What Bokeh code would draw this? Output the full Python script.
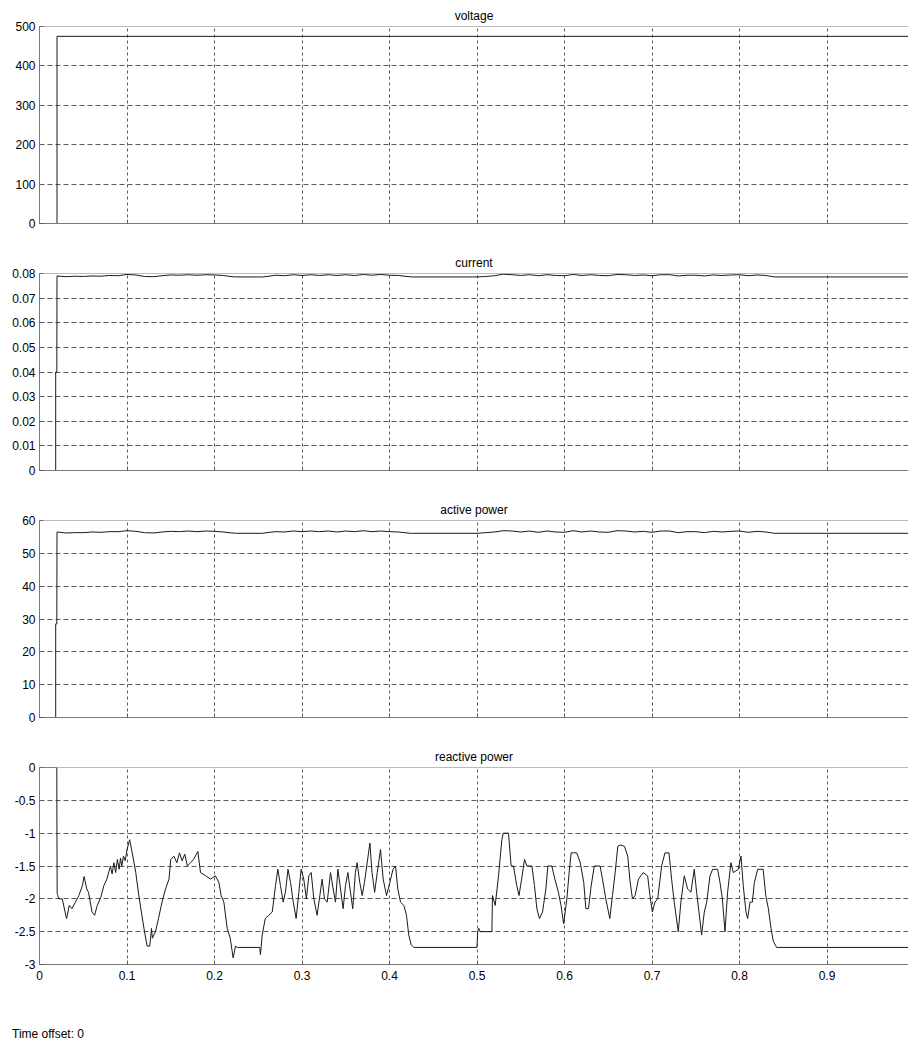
from bokeh.plotting import figure
from bokeh.models import FixedTicker, CustomJSTickFormatter, Range1d, Span, Div
from bokeh.layouts import column
from bokeh.embed import file_html
from bokeh.resources import INLINE

FONT = "Liberation Sans"

# ---------------- data ----------------
x_ticks = [0.0, 0.1, 0.2, 0.3, 0.4, 0.5, 0.6, 0.7, 0.8, 0.9]

voltage_t = [0.0, 0.02, 0.02, 1.0]
voltage_v = [0.0, 0.0, 475.0, 475.0]
voltage_ticks = [0, 100, 200, 300, 400, 500]

start_t = [0.0, 0.0185, 0.0185, 0.0198]
current_start = [0.0, 0.0, 0.040, 0.040]
active_start = [0.0, 0.0, 28.5, 28.5]

ripple_t = [0.02, 0.03, 0.04, 0.05, 0.06, 0.07, 0.08, 0.09, 0.10, 0.11, 0.12, 0.13,
            0.14, 0.15, 0.16, 0.17, 0.18, 0.19, 0.20, 0.21, 0.22, 0.225,
            0.255, 0.26, 0.27, 0.28, 0.29, 0.30, 0.31, 0.32, 0.33, 0.34, 0.35, 0.36,
            0.37, 0.38, 0.39, 0.40, 0.41, 0.42, 0.425,
            0.50, 0.51, 0.52, 0.53, 0.54, 0.55, 0.56, 0.57, 0.58, 0.59, 0.60, 0.61,
            0.62, 0.63, 0.64, 0.65, 0.66, 0.67, 0.68, 0.69, 0.70, 0.71, 0.72, 0.73,
            0.74, 0.75, 0.76, 0.77, 0.78, 0.79, 0.80, 0.81, 0.82, 0.83, 0.84, 1.0]

current_v = [0.0790, 0.0787, 0.0789, 0.0788, 0.0790, 0.0789, 0.0792, 0.0791, 0.0796, 0.0794,
             0.0788, 0.0787, 0.0791, 0.0794, 0.0793, 0.0795, 0.0793, 0.0795, 0.0794, 0.0792,
             0.0787, 0.0786,
             0.0786, 0.0788, 0.0793, 0.0791, 0.0795, 0.0792, 0.0795, 0.0792, 0.0795, 0.0792,
             0.0795, 0.0792, 0.0796, 0.0793, 0.0796, 0.0793, 0.0792, 0.0788, 0.0786,
             0.0786, 0.0788, 0.0791, 0.0797, 0.0795, 0.0792, 0.0795, 0.0791, 0.0795, 0.0792,
             0.0791, 0.0796, 0.0792, 0.0795, 0.0792, 0.0791, 0.0796, 0.0795, 0.0792, 0.0794,
             0.0791, 0.0795, 0.0795, 0.0790, 0.0793, 0.0793, 0.0790, 0.0794, 0.0792, 0.0794,
             0.0795, 0.0791, 0.0794, 0.0792, 0.0786, 0.0786]
current_ticks = [0.0, 0.01, 0.02, 0.03, 0.04, 0.05, 0.06, 0.07, 0.08]

active_v = [56.5, 56.2, 56.3, 56.3, 56.5, 56.4, 56.6, 56.6, 56.9, 56.7,
            56.3, 56.2, 56.5, 56.7, 56.6, 56.8, 56.6, 56.8, 56.7, 56.5,
            56.2, 56.1,
            56.1, 56.3, 56.6, 56.5, 56.8, 56.6, 56.8, 56.6, 56.8, 56.5,
            56.8, 56.6, 56.9, 56.6, 56.8, 56.6, 56.5, 56.2, 56.1,
            56.1, 56.3, 56.5, 56.9, 56.8, 56.5, 56.8, 56.4, 56.8, 56.5,
            56.4, 56.9, 56.5, 56.8, 56.5, 56.4, 56.9, 56.8, 56.5, 56.7,
            56.4, 56.8, 56.8, 56.3, 56.6, 56.6, 56.3, 56.7, 56.5, 56.7,
            56.8, 56.4, 56.7, 56.5, 56.1, 56.1]
active_ticks = [0, 10, 20, 30, 40, 50, 60]

reactive_t = [0.0, 0.0198, 0.0199, 0.0202, 0.021, 0.022, 0.026, 0.030, 0.031, 0.034,
              0.037, 0.041, 0.045, 0.049, 0.051, 0.054, 0.056, 0.060, 0.063, 0.066,
              0.070, 0.0735, 0.077, 0.081, 0.083, 0.085, 0.087, 0.089, 0.091, 0.0926, 0.094, 0.096, 0.098, 0.100, 0.103,
              0.106, 0.110, 0.1135, 0.117, 0.120, 0.123, 0.126, 0.128, 0.129, 0.1326,
              0.136, 0.140, 0.144, 0.148, 0.150, 0.1535, 0.157, 0.160, 0.163, 0.166, 0.169, 0.1726,
              0.176, 0.181, 0.184, 0.190, 0.1954, 0.201, 0.205, 0.2076, 0.2107, 0.2145,
              0.218, 0.2213, 0.224, 0.226, 0.2518, 0.2525, 0.2545, 0.258, 0.262, 0.266,
              0.2697, 0.2724, 0.2754, 0.2785, 0.281, 0.284, 0.2869, 0.290, 0.2933, 0.2964,
              0.299, 0.302, 0.305, 0.3078, 0.3105, 0.3135, 0.3173, 0.3204, 0.323, 0.3257,
              0.3288, 0.3326, 0.3356, 0.3383, 0.341, 0.344, 0.347, 0.3497, 0.3524, 0.3554,
              0.358, 0.361, 0.363, 0.366, 0.3688, 0.3714, 0.3745, 0.3776, 0.380, 0.383,
              0.386, 0.3897, 0.3928, 0.3966, 0.4004, 0.404, 0.4069, 0.4095, 0.4126, 0.4164,
              0.4194, 0.422, 0.4248, 0.4278, 0.500, 0.5008, 0.502, 0.5037, 0.517, 0.5177,
              0.5208, 0.5246, 0.5284, 0.530, 0.536, 0.539, 0.5417, 0.5455, 0.548, 0.551,
              0.5543, 0.557, 0.5627, 0.5657, 0.5684, 0.5714, 0.5749, 0.5787, 0.581, 0.5855,
              0.589, 0.593, 0.596, 0.599, 0.6027, 0.6053, 0.6076, 0.614, 0.618, 0.622,
              0.6244, 0.6274, 0.6305, 0.634, 0.6407, 0.6434, 0.6472, 0.6518, 0.6548, 0.6579,
              0.6609, 0.6636, 0.6685, 0.6723, 0.675, 0.6777, 0.6807, 0.6845, 0.690, 0.695,
              0.6977, 0.7004, 0.7034, 0.7065, 0.711, 0.7148, 0.7194, 0.7224, 0.7254, 0.730,
              0.733, 0.7369, 0.7407, 0.7445, 0.7483, 0.751, 0.7537, 0.7567, 0.7598, 0.7625,
              0.7663, 0.7693, 0.775, 0.7777, 0.7804, 0.7834, 0.7864, 0.7902, 0.7929, 0.7986,
              0.8017, 0.8043, 0.8074, 0.8093, 0.812, 0.8147, 0.817, 0.8208, 0.827, 0.830,
              0.833, 0.836, 0.8387, 0.8425, 1.0]
reactive_v = [0.0, 0.0, -0.87, -1.92, -1.95, -2.0, -2.0, -2.25, -2.3, -2.1,
              -2.15, -2.05, -1.95, -1.8, -1.66, -1.85, -1.9, -2.2, -2.25, -2.1,
              -1.98, -1.8, -1.7, -1.5, -1.62, -1.45, -1.6, -1.4, -1.55, -1.38, -1.5, -1.35, -1.42, -1.25, -1.1,
              -1.3, -1.6, -1.95, -2.25, -2.5, -2.72, -2.72, -2.45, -2.6, -2.5,
              -2.3, -2.05, -1.85, -1.7, -1.4, -1.35, -1.45, -1.3, -1.42, -1.32, -1.5, -1.45,
              -1.4, -1.28, -1.6, -1.65, -1.7, -1.65, -1.75, -1.95, -2.05, -2.45,
              -2.6, -2.9, -2.72, -2.74, -2.74, -2.85, -2.55, -2.3, -2.25, -2.2,
              -1.8, -1.55, -1.8, -2.05, -1.9, -1.55, -1.75, -2.05, -2.3, -1.9,
              -1.55, -1.7, -2.0, -1.65, -1.6, -2.0, -2.25, -1.95, -1.7, -2.0,
              -2.05, -1.6, -1.85, -2.05, -1.55, -1.85, -2.15, -1.8, -1.6, -1.9,
              -2.15, -1.6, -1.45, -1.75, -1.95, -1.75, -1.45, -1.15, -1.6, -1.9,
              -1.6, -1.25, -1.7, -1.95, -1.75, -1.55, -1.5, -1.85, -2.05, -2.1,
              -2.25, -2.55, -2.7, -2.74, -2.74, -2.5, -2.45, -2.5, -2.5, -1.95,
              -2.1, -1.65, -1.1, -1.0, -1.0, -1.5, -1.5, -1.8, -1.95, -1.7,
              -1.4, -1.5, -1.5, -1.8, -2.15, -2.3, -2.2, -1.85, -1.5, -1.5,
              -1.7, -1.9, -2.1, -2.38, -2.0, -1.6, -1.3, -1.3, -1.45, -1.75,
              -2.15, -2.15, -1.8, -1.5, -1.5, -1.7, -2.0, -2.3, -1.95, -1.6,
              -1.2, -1.18, -1.2, -1.35, -1.75, -2.0, -1.95, -1.7, -1.6, -1.65,
              -1.95, -2.2, -2.05, -2.0, -1.5, -1.3, -1.3, -1.7, -2.05, -2.5,
              -2.05, -1.65, -1.85, -1.9, -1.55, -1.9, -2.2, -2.55, -2.2, -2.05,
              -1.65, -1.55, -1.55, -1.75, -2.0, -2.5, -1.9, -1.45, -1.6, -1.55,
              -1.35, -1.8, -2.2, -2.3, -2.05, -2.05, -1.75, -1.55, -1.55, -1.95,
              -2.15, -2.45, -2.65, -2.74, -2.74]
reactive_ticks = [-3.0, -2.5, -2.0, -1.5, -1.0, -0.5, 0.0]

footer_text = "Time offset: 0"

assert len(ripple_t) == len(current_v) == len(active_v), (len(ripple_t), len(current_v), len(active_v))
assert len(reactive_t) == len(reactive_v), (len(reactive_t), len(reactive_v))

# ---------------- layout ----------------
FRAME_W = 869
FRAME_H = 197
X_END = FRAME_W / 875.0

LINE_COLOR = "#1a1a1a"
GRID_COLOR = "#5a5a5a"
FRAME_COLOR = "#7a7a7a"
FONT_SIZE = "12px"

fmt_code = "return tick.toString();"


def make_panel(title, y_lo, y_hi, y_ticks, bottom_border, show_x_labels):
    p = figure(frame_width=FRAME_W, frame_height=FRAME_H,
               min_border_left=39, min_border_right=0, min_border_top=26,
               min_border_bottom=bottom_border,
               x_range=Range1d(0, X_END), y_range=Range1d(y_lo, y_hi),
               output_backend="svg", toolbar_location=None, title=title,
               background_fill_color="white", border_fill_color="white")
    p.title.align = "center"
    p.title.text_font = FONT
    p.title.text_font_size = FONT_SIZE
    p.title.text_font_style = "normal"
    p.title.text_color = "black"
    p.title.standoff = 8
    p.outline_line_color = None

    p.xaxis.ticker = FixedTicker(ticks=x_ticks)
    p.yaxis.ticker = FixedTicker(ticks=y_ticks)
    p.yaxis.formatter = CustomJSTickFormatter(code=fmt_code)
    if show_x_labels:
        p.xaxis.formatter = CustomJSTickFormatter(code=fmt_code)
    else:
        p.xaxis.formatter = CustomJSTickFormatter(code="return '';")
    for ax in (p.xaxis[0], p.yaxis[0]):
        ax.axis_line_color = FRAME_COLOR
        ax.axis_line_width = 1
        ax.major_tick_in = 4
        ax.major_tick_out = 0
        ax.major_tick_line_color = GRID_COLOR
        ax.minor_tick_line_color = None
        ax.major_label_standoff = 4
        ax.major_label_text_font = FONT
        ax.major_label_text_font_size = FONT_SIZE
        ax.major_label_text_color = "black"
    p.xaxis.major_label_standoff = 6

    p.xgrid.grid_line_color = GRID_COLOR
    p.xgrid.grid_line_dash = "3 3"
    p.xgrid.grid_line_width = 1
    p.ygrid.grid_line_color = GRID_COLOR
    p.ygrid.grid_line_dash = "5 3"
    p.ygrid.grid_line_width = 1
    # top border of the scope frame
    p.add_layout(Span(location=y_hi, dimension="width", line_color=FRAME_COLOR, line_width=1))
    return p


p1 = make_panel("voltage", 0, 500, voltage_ticks, 24, False)
p1.line(voltage_t, voltage_v, line_color=LINE_COLOR, line_width=1)

p2 = make_panel("current", 0, 0.08, current_ticks, 24, False)
p2.line(start_t + ripple_t, current_start + current_v, line_color=LINE_COLOR, line_width=1)

p3 = make_panel("active power", 0, 60, active_ticks, 24, False)
p3.line(start_t + ripple_t, active_start + active_v, line_color=LINE_COLOR, line_width=1)

p4 = make_panel("reactive power", -3, 0, reactive_ticks, 64, True)
p4.line(reactive_t, reactive_v, line_color=LINE_COLOR, line_width=1)

footer = Div(text=footer_text, width=300, height=13, margin=(0, 0, 0, 12),
             styles={"font-family": FONT, "font-size": FONT_SIZE, "line-height": "13px",
                     "color": "black"})

layout = column(p1, p2, p3, p4, footer, spacing=0)

open("out.html", "w").write(file_html(layout, INLINE))
